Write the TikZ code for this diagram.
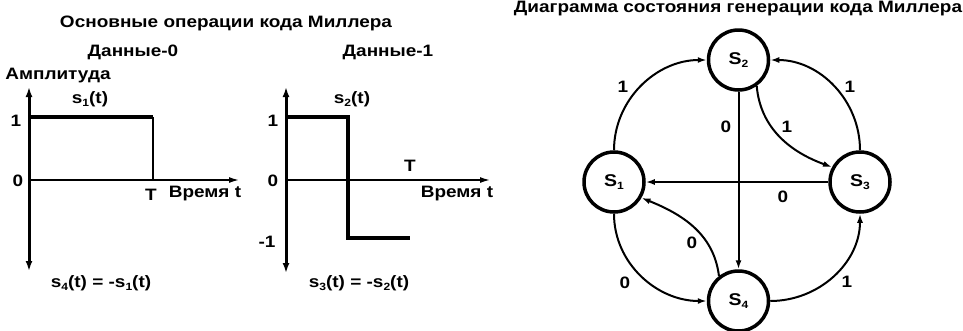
\documentclass[tikz,border=0pt]{standalone}
\usepackage{fontspec}
\setmainfont{Liberation Sans}[FakeStretch=1.15]
\usetikzlibrary{arrows.meta}
\newcommand\sbx[1]{\raisebox{-0.4ex}{\fontsize{10.5}{10.5}\selectfont #1}}
\begin{document}
\begin{tikzpicture}[x=1pt,y=-1pt,
  font=\bfseries\fontsize{16.5}{18}\selectfont,
  sig/.style={line width=4pt},
  thinax/.style={line width=1.5pt},
  vax/.style={line width=3pt, {Latex[length=10pt,width=7pt]}-{Latex[length=10pt,width=7pt]}},
  hax/.style={line width=1.5pt, -{Latex[length=10pt,width=6pt]}},
  st/.style={circle, draw, line width=3.5pt, minimum size=60pt, inner sep=0pt, font=\bfseries\fontsize{17}{19}\selectfont},
  tr/.style={line width=2pt, -{Latex[length=9pt,width=6pt]}},
  lab/.style={inner sep=0pt}]
\useasboundingbox[fill=white] (0,0) rectangle (963,330);

% ---------- titles ----------
\node[lab] (t1) at (226,23) {Основные операции кода Миллера};
\node[lab] (t2) at (133,52) {Данные-0};
\node[lab] (t3) at (388,52) {Данные-1};
\node[lab] (t4) at (738,8.5) {Диаграмма состояния генерации кода Миллера};
\node[lab] (amp) at (58,76) {Амплитуда};

% ---------- plot 1 ----------
\coordinate (a1t) at (29,87);
\coordinate (a1b) at (29,271);
\coordinate (o1) at (29,180);
\coordinate (x1) at (239,180);
\coordinate (p1a) at (29,117);
\coordinate (p1b) at (153,117);
\coordinate (p1c) at (153,180);
\draw[vax] (a1t) -- (a1b);
\draw[hax] (o1) -- (x1);
\draw[sig] (p1a) -- (p1b);
\draw[thinax] (p1b) -- (p1c);
\node[lab] (l11) at (16,121) {1};
\node[lab] (l10) at (18,181) {0};
\node[lab] (lT1) at (151,195) {T};
\node[lab] (lt1) at (205,194) {Время t};
\node[lab] (ls1) at (90,99) {s\sbx{1}(t)};
\node[lab] (ls4) at (101,283) {s\sbx{4}(t) = -s\sbx{1}(t)};

% ---------- plot 2 ----------
\coordinate (a2t) at (286,87);
\coordinate (a2b) at (286,273);
\coordinate (o2) at (286,180);
\coordinate (x2) at (490,180);
\coordinate (q1) at (286,117);
\coordinate (q2) at (348,117);
\coordinate (q3) at (348,238);
\coordinate (q4) at (410,238);
\draw[vax] (a2t) -- (a2b);
\draw[hax] (o2) -- (x2);
\draw[sig, line join=miter] (q1) -- (q2) -- (q3) -- (q4);
\node[lab] (l21) at (273,121) {1};
\node[lab] (l20) at (273,181) {0};
\node[lab] (l2m) at (267,242) {-1};
\node[lab] (lT2) at (410,166) {T};
\node[lab] (lt2) at (457,194) {Время t};
\node[lab] (ls2) at (352,99) {s\sbx{2}(t)};
\node[lab] (ls3) at (359,283) {s\sbx{3}(t) = -s\sbx{2}(t)};

% ---------- state diagram ----------
\node[st] (S1) at (614,182) {S\sbx{1}};
\node[st] (S2) at (738.5,60) {S\sbx{2}};
\node[st] (S3) at (860,182) {S\sbx{3}};
\node[st] (S4) at (738.5,301) {S\sbx{4}};

\draw[tr] (S1.north) to[out=90,in=180] (S2.west);
\draw[tr] (S3.north) to[out=90,in=0] (S2.east);
\draw[tr] (S2.south) -- (S4.north);
\draw[tr] (S2.-55) to[out=-85,in=160] (S3.152);
\draw[tr] (S3.west) -- (S1.east);
\draw[tr] (S4.128) to[out=97,in=-22] (S1.-30);
\draw[tr] (S1.south) to[out=-90,in=180] (S4.west);
\draw[tr] (S4.east) to[out=0,in=-90] (S3.south);

\node[lab] (e1) at (623,87) {1};
\node[lab] (e2) at (850,87) {1};
\node[lab] (e3) at (726,127) {0};
\node[lab] (e4) at (787,127) {1};
\node[lab] (e5) at (783,197) {0};
\node[lab] (e6) at (692,243) {0};
\node[lab] (e7) at (625,283) {0};
\node[lab] (e8) at (847,282) {1};
\end{tikzpicture}
\end{document}
